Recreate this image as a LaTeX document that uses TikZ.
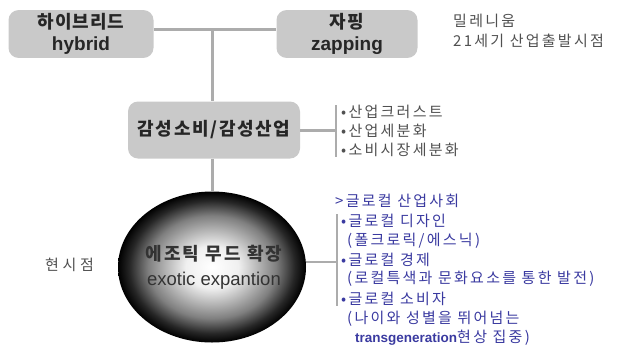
\documentclass[tikz,border=0pt]{standalone}
\usepackage{fontspec}
\setmainfont{Noto Sans CJK KR}
\newfontfamily\latin{Liberation Sans}
\usetikzlibrary{shapes.geometric,positioning}
\definecolor{boxgray}{RGB}{201,201,201}
\definecolor{linegray}{RGB}{172,172,172}
\definecolor{txtgray}{RGB}{80,80,80}
\definecolor{glblue}{RGB}{58,58,160}
\pgfdeclareradialshading{orb}{\pgfpoint{0bp}{0bp}}{color(0bp)=(white); color(7bp)=(white!94!black); color(17bp)=(black!50); color(22bp)=(black!85); color(25bp)=(black); color(50bp)=(black)}

\begin{document}
\begin{tikzpicture}[x=1pt,y=-1pt,
  keybox/.style={fill=boxgray,rounded corners=10pt,align=center,text=black!85,
    font=\bfseries\fontsize{18}{22}\selectfont\addfontfeatures{LetterSpace=5}},
  link/.style={draw=linegray,line width=3pt},
  brace/.style={draw=linegray,line width=2pt},
  note/.style={anchor=west,inner sep=0pt,font=\fontsize{15}{20}\selectfont\addfontfeatures{LetterSpace=15}}]
\useasboundingbox (0,0) rectangle (624,360);

% Top boxes
\node[keybox,minimum width=145pt,minimum height=47pt] (hybrid) at (81,34)
  {하이브리드\\{\latin\bfseries\fontsize{19}{22}\selectfont hybrid}};
\node[keybox,minimum width=141pt,minimum height=47pt] (zapping) at (347,34)
  {자핑\\{\latin\bfseries\fontsize{19}{22}\selectfont zapping}};
\node[note,text=txtgray,align=left] (millen) at (453,31) {밀레니움\\21세기 산업출발시점};
\coordinate (top) at (212,29);
\draw[link] (hybrid.east |- top) -- (zapping.west |- top);

% Middle box
\node[keybox,minimum width=172pt,minimum height=57pt,
  font=\bfseries\fontsize{18}{22}\selectfont\addfontfeatures{LetterSpace=9}] (senti) at (214,130) {감성소비/감성산업};
\draw[link] (top) -- (top |- senti.north);
\foreach \i/\y/\txt in {1/112/산업크러스트, 2/131/산업세분화, 3/150/소비시장세분화}
  \node[note,text=txtgray] (ind\i) at (341,\y) {•\txt};
\coordinate (indbar) at (336,130);
\draw[link] (senti.east) -- (indbar);
\draw[brace] (indbar |- ind1.north) -- (indbar |- ind3.south);

% Exotic orb
\node[ellipse,shading=orb,minimum width=188pt,minimum height=151pt] (exotic) at (212,267) {};
\node[align=center,text=black!80,font=\fontsize{18}{25}\selectfont] (exoticlbl) at (214,267)
  {{\bfseries\addfontfeatures{LetterSpace=12}에조틱 무드 확장}\\
   {\latin\fontsize{18.5}{25}\selectfont exotic expantion}};
\draw[link] (senti.south -| top) -- (exotic.north -| top);
\node[note,text=txtgray,font=\fontsize{15}{20}\selectfont\addfontfeatures{LetterSpace=24}] (now) at (45,265) {현시점};

% Glocal notes
\node[note,text=glblue] (glhead) at (335,201) {>글로컬 산업사회};
\foreach \i/\x/\y/\txt in {1/341/221/{•글로컬 디자인}, 2/347/241/{(폴크로릭/에스닉)}, 3/341/260/{•글로컬 경제},
    4/347/279/{(로컬특색과 문화요소를 통한 발전)}, 5/341/299/{•글로컬 소비자}, 6/347/319/{(나이와 성별을 뛰어넘는}}
  \node[note,text=glblue] (gl\i) at (\x,\y) {\txt};
\node[note,text=glblue] (gl7) at (355,338) {{\latin\bfseries\fontsize{13.5}{20}\selectfont transgeneration}현상 집중)};
\coordinate (glbar) at (337,262);
\draw[link,line width=2pt] (exotic.east |- glbar) -- (glbar);
\draw[brace] (glbar |- gl1.north) -- (glbar |- gl5.south);

\end{tikzpicture}
\end{document}
